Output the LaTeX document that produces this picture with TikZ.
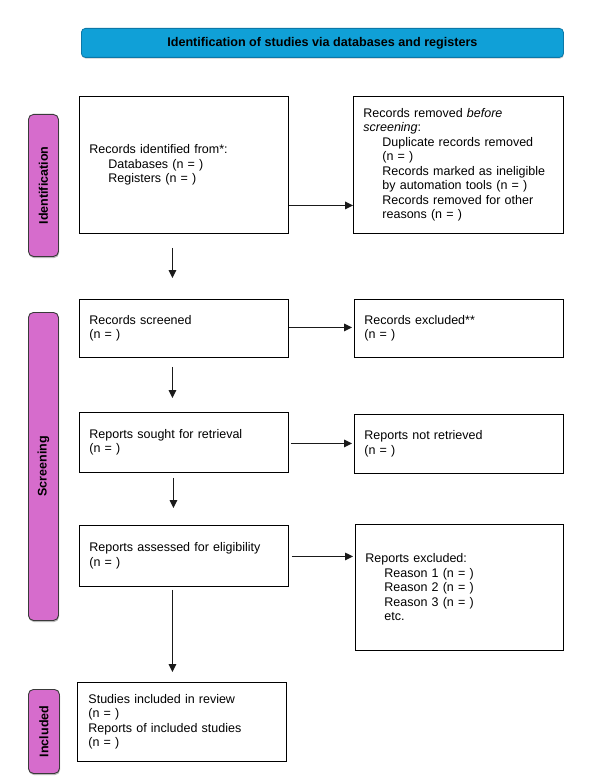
\documentclass[tikz,border=0pt]{standalone}
\usepackage{fontspec}
\setmainfont{Liberation Sans}
\usetikzlibrary{arrows.meta,shadows}
\definecolor{titleblue}{HTML}{10A0D7}
\definecolor{titleedge}{HTML}{0B78A8}
\definecolor{barpink}{HTML}{D66CCC}
\definecolor{baredge}{HTML}{3A3A3A}
\definecolor{arrowc}{HTML}{1A1A1A}
\newcommand{\ind}{\hspace*{19pt}}
\begin{document}
\begin{tikzpicture}[x=1pt,y=-1pt,
  every node/.style={font=\fontsize{12.5pt}{14.5pt}\selectfont},
  box/.style={draw=black, line width=0.9pt, inner xsep=10pt, inner ysep=3pt, align=left, anchor=north west},
  sidebar/.style={draw=baredge, fill=barpink, line width=0.9pt, rounded corners=5pt, anchor=north west, inner sep=0pt,
     drop shadow={shadow xshift=0.6pt, shadow yshift=-1.6pt, fill=black!45, opacity=0.6}},
  bartext/.style={rotate=90, font=\bfseries\fontsize{12.5pt}{14.5pt}\selectfont},
  arr/.style={draw=arrowc, line width=1.4pt, -{Triangle[length=8pt,width=7.5pt]}}
]
\useasboundingbox (0,0) rectangle (599,781);
\fill[white] (0,0) rectangle (599,781);

% title
\node[draw=titleedge, fill=titleblue, line width=0.8pt, rounded corners=4pt, anchor=north west,
      minimum width=482pt, minimum height=29pt, inner sep=0pt,
      drop shadow={shadow xshift=0.5pt, shadow yshift=-1.2pt, fill=black!40, opacity=0.5},
      font=\bfseries\fontsize{12.6pt}{14.5pt}\selectfont] (title) at (81,28)
  {Identification of studies via databases and registers};

% side bars
\node[sidebar, minimum width=30pt, minimum height=142pt] (bar1) at (28,114) {};
\node[bartext] (bar1t) at (bar1.center) {Identification};
\node[sidebar, minimum width=30pt, minimum height=308pt] (bar2) at (28,312) {};
\node[bartext] (bar2t) at (bar2.center) {Screening};
\node[sidebar, minimum width=31pt, minimum height=84pt] (bar3) at (28,689) {};
\node[bartext] (bar3t) at (bar3.center) {Included};

% boxes
\node[box, minimum height=137pt, text width=189pt] (ident) at (79,96)
  {Records identified from*:\\\ind Databases (n = )\\\ind Registers (n = )};
\node[box, minimum height=137pt, text width=190pt] (removed) at (353,96)
  {Records removed \textit{before}\\\textit{screening}:\\\ind Duplicate records removed\\\ind (n = )\\\ind Records marked as ineligible\\\ind by automation tools (n = )\\\ind Records removed for other\\\ind reasons (n = )};

\node[box, minimum height=58pt, text width=189pt] (screened) at (79,299)
  {Records screened\\(n = )};
\node[box, minimum height=58pt, text width=189pt] (excluded) at (354,299)
  {Records excluded**\\(n = )};

\node[box, minimum height=60pt, text width=189pt] (sought) at (79,412)
  {Reports sought for retrieval\\(n = )};
\node[box, minimum height=59pt, text width=189pt] (notret) at (354,414)
  {Reports not retrieved\\(n = )};

\node[box, minimum height=61pt, text width=189pt] (assessed) at (79,525)
  {Reports assessed for eligibility\\(n = )};
\node[box, minimum height=126pt, text width=188pt] (excl2) at (355,524)
  {Reports excluded:\\\ind Reason 1 (n = )\\\ind Reason 2 (n = )\\\ind Reason 3 (n = )\\\ind etc.};

\node[box, inner xsep=11pt, minimum height=79pt, text width=187pt] (included) at (77,682)
  {Studies included in review\\(n = )\\Reports of included studies\\(n = )};

% horizontal arrows
\draw[arr] ([yshift=-40.5pt]ident.east) -- ([yshift=-40.5pt]ident.east -| removed.west);
\draw[arr] ([yshift=1pt]screened.east) -- ([xshift=-2pt,yshift=1pt]screened.east -| excluded.west);
\draw[arr] ([xshift=2pt,yshift=-1pt]sought.east) -- ([xshift=-2pt,yshift=-1pt]sought.east -| notret.west);
\draw[arr] ([xshift=3pt,yshift=-0.5pt]assessed.east) -- ([xshift=-2pt,yshift=-0.5pt]assessed.east -| excl2.west);

% vertical arrows
\draw[arr] ([xshift=-11.5pt,yshift=-14pt]ident.south) -- ([xshift=-11.5pt,yshift=21pt]screened.north);
\draw[arr] ([xshift=-11.5pt,yshift=-9pt]screened.south) -- ([xshift=-11.5pt,yshift=14pt]sought.north);
\draw[arr] ([xshift=-10.5pt,yshift=-5pt]sought.south) -- ([xshift=-10.5pt,yshift=17pt]assessed.north);
\draw[arr] ([xshift=-11.5pt,yshift=-3pt]assessed.south) -- ([xshift=-9.5pt,yshift=10pt]included.north);
\end{tikzpicture}
\end{document}
